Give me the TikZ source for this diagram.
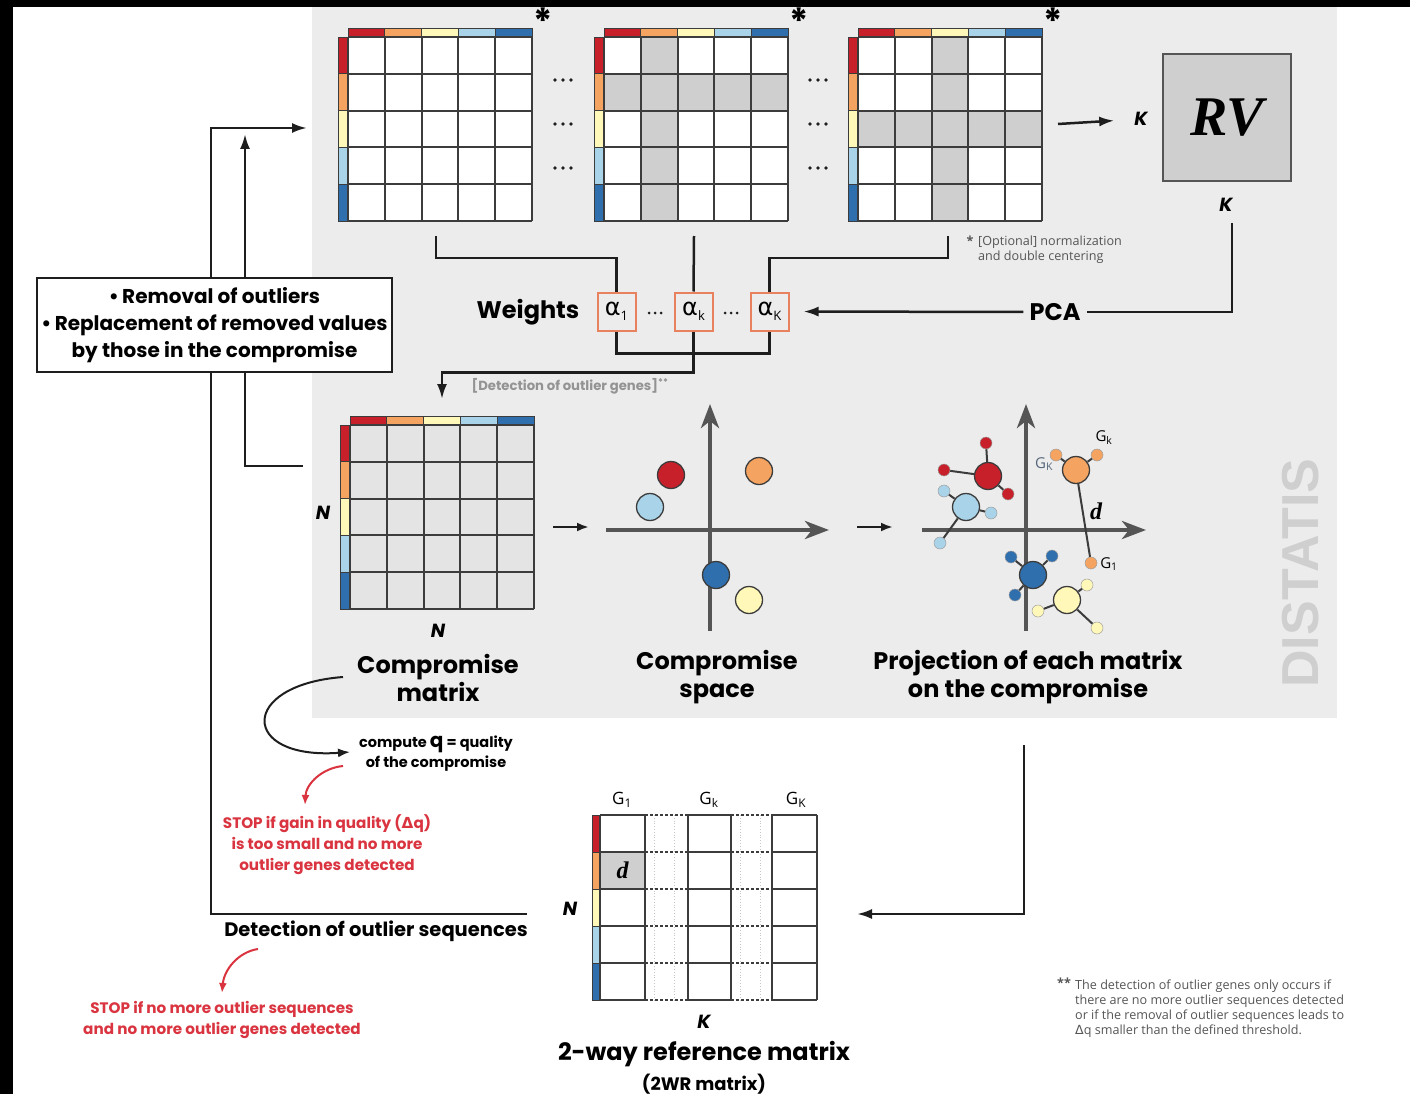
\documentclass[tikz,border=0pt]{standalone}
\usepackage{fontspec}
\setmainfont{Poppins}
\newfontfamily\greekfont{DejaVu Sans}
\newfontfamily\notefont{Open Sans}
\newfontfamily\bandfont{Liberation Sans}
\newfontfamily\rvfont{Liberation Serif}
\usetikzlibrary{arrows.meta,positioning,calc}

\definecolor{gred}{HTML}{C8202A}
\definecolor{gorange}{HTML}{F4A460}
\definecolor{gyellow}{HTML}{FFF8B8}
\definecolor{glblue}{HTML}{A9D3E8}
\definecolor{gblue}{HTML}{2F6FAE}
\definecolor{panel}{HTML}{ECECEC}
\definecolor{cellgray}{HTML}{E4E4E4}
\definecolor{cellshade}{HTML}{CFCFCF}
\definecolor{gridline}{HTML}{3C3C3C}
\definecolor{axisc}{HTML}{555555}
\definecolor{linkc}{HTML}{1E1E1E}
\definecolor{boxorange}{HTML}{E8825E}
\definecolor{stopred}{HTML}{D9343F}
\definecolor{notegray}{HTML}{555555}
\definecolor{bandgray}{HTML}{CFCFCF}
\definecolor{glabblue}{HTML}{55667A}

\newcommand{\alphatxt}[1]{{\greekfont\fontsize{24}{24}\selectfont α}\raisebox{-5pt}{\notefont\fontsize{13}{13}\selectfont #1}}

\tikzset{
  link/.style={line width=2.5pt,draw=linkc},
  tip/.style={-{Latex[length=15pt,width=10pt]}},
  shorttip/.style={line width=2.5pt,draw=linkc,-{Latex[length=12pt,width=9pt]}},
  cellline/.style={draw=gridline,line width=2pt},
  axisline/.style={draw=axisc,line width=4.5pt,-{Stealth[length=24pt,width=18pt,inset=7pt]}},
  atom/.style={circle,draw=gridline,line width=1.3pt,fill=#1,minimum size=27pt,inner sep=0pt},
  sat/.style={circle,draw=gridline!50,line width=0.5pt,fill=#1,minimum size=12pt,inner sep=0pt},
  bond/.style={draw=gridline,line width=2pt},
  title/.style={font=\bfseries\fontsize{24}{28}\selectfont,align=center,inner sep=0pt},
  dimlab/.style={font=\bfseries\itshape\fontsize{19}{19}\selectfont,inner sep=0pt},
  alphabox/.style={draw=boxorange,line width=2pt,fill=panel,minimum size=38pt,inner sep=0pt},
  asterisk/.style={font=\bfseries\fontsize{36}{36}\selectfont,inner sep=0pt},
  note/.style={font=\notefont\fontsize{12.6}{15}\selectfont,text=notegray,inner sep=0pt},
  smalltext/.style={font=\bfseries\fontsize{14.5}{20}\selectfont,align=center,inner sep=0pt},
  stoptext/.style={font=\bfseries\fontsize{15.2}{21}\selectfont,text=stopred,align=center,inner sep=0pt},
  stoparrow/.style={draw=stopred,line width=2pt,-{Latex[length=10pt,width=8pt]}},
  glab/.style={font=\notefont\fontsize{15}{15}\selectfont,inner sep=0pt},
  dlab/.style={font=\rvfont\bfseries\itshape\fontsize{24}{24}\selectfont,inner sep=0pt}
}

\begin{document}
\begin{tikzpicture}[x=1pt,y=-1pt]

% Fond
\useasboundingbox (0,0) rectangle (1410,1094);
\fill[white] (0,0) rectangle (1410,1094);
\fill[black] (0,0) rectangle (1410,7);
\fill[black] (0,0) rectangle (13,1094);

% Panneau DISTATIS
\fill[panel] (312,7) rectangle (1337,718);
\node[rotate=90,font=\bandfont\bfseries\fontsize{52}{52}\selectfont,text=bandgray] (distatis) at (1301,573) {DISTATIS};

% Matrices de distances
\foreach \X/\S in {348/-1,604/1,858/2}
{
  \fill[white] (\X,37) rectangle ++(184,184);
  \ifnum\S>-1
    \fill[cellshade] (\X+\S*36.8,37) rectangle ++(36.8,184);
    \fill[cellshade] (\X,37+\S*36.8) rectangle ++(184,36.8);
  \fi
  \foreach \c [count=\i from 0] in {gred,gorange,gyellow,glblue,gblue}
  {
    \filldraw[fill=\c,draw=gridline,line width=0.8] (\X+\i*36.8,28) rectangle ++(36.8,8);
    \filldraw[fill=\c,draw=gridline,line width=0.8] (\X-10,37+\i*36.8) rectangle ++(10,36.8);
  }
  \foreach \k in {0,...,5}
  {
    \draw[cellline] (\X+\k*36.8,37) -- ++(0,184);
    \draw[cellline] (\X,37+\k*36.8) -- ++(184,0);
  }
  \node[asterisk] (star\X) at (\X+195,21) {*};
}

% Points de suspension
\foreach \x in {563,818}
  \foreach \y in {80,124,168}
    \foreach \d in {-8,0,8}
      \fill[linkc] (\x+\d,\y) circle (1.8);

% RV
\node[draw=axisc,line width=1.5pt,fill=cellshade,minimum width=128pt,minimum height=127pt,
  font=\rvfont\bfseries\itshape\fontsize{56}{56}\selectfont] (rv) at (1227,117.5) {RV};
\node[dimlab] (rvK) at (1141,119) {K};
\node[dimlab] (rvKb) at (1226,205) {K};
\coordinate (m3e) at (1058,124);
\draw[link,tip,shorten >=20pt] (m3e) -- (rvK);

% Poids
\node[title] (weights) at (528,312) {Weights};
\node[alphabox] (a1) at (616.5,311.5) {\alphatxt{1}};
\node[alphabox] (ak) at (693.5,311.5) {\alphatxt{k}};
\node[alphabox] (aK) at (769.5,311.5) {\alphatxt{K}};
\foreach \x in {655,731}
  \foreach \d in {-6,0,6}
    \fill[linkc] (\x+\d,313) circle (1.5);

\coordinate (m1s) at (436,236);
\coordinate (m2s) at (694,236);
\coordinate (m3s) at (948,236);
\draw[link] (m1s) -- ++(0,22) -| (a1.north);
\draw[link] (m2s) -- (ak.north);
\draw[link] (m3s) -- ++(0,22) -| (aK.north);

\draw[link] (a1.south) -- ++(0,22) -| (aK.south);
\coordinate (cmin) at (442,399);
\draw[link,tip] (ak.south) -- ++(0,41) -| (cmin);
\node[font=\bfseries\fontsize{13.2}{13.2}\selectfont,text=gray!85,inner sep=0pt] (genes) at (570,386)
  {[Detection of outlier genes]\textsuperscript{**}};

% PCA
\node[title] (pca) at (1055,312) {PCA};
\draw[link] ([xshift=6pt,yshift=-11pt]rvKb.south) |- ([xshift=6pt]pca.east);
\draw[link,tip,shorten <=6pt,shorten >=14pt] (pca.west) -- (aK.east);

\node[note,anchor=north west,align=left] (optnote) at (978,236) {[Optional] normalization\\and double centering};
\node[note] (optstar) at (970,241) {\textbf{*}};

% Boucle des valeurs aberrantes
\coordinate (seqend) at (527,914);
\coordinate (colA) at (211,128);
\coordinate (m1in) at (307,128);
\draw[link,tip] (seqend) -| (colA) -- (m1in);
\coordinate (cmout) at (303,466);
\coordinate (colB) at (245,134);
\draw[link,tip] (cmout) -| (colB);

\node[draw=linkc,line width=2pt,fill=white,minimum width=355pt,minimum height=94pt,align=center,
  font=\bfseries\fontsize{20}{27}\selectfont] (rmv) at (214.5,325)
  {\textbullet\,Removal of outliers\\\textbullet\,Replacement of removed values\\by those in the compromise};

% Matrice compromis
\fill[cellgray] (350,425) rectangle ++(184,184);
\foreach \c [count=\i from 0] in {gred,gorange,gyellow,glblue,gblue}
{
  \filldraw[fill=\c,draw=gridline,line width=0.8] (350+\i*36.8,416) rectangle ++(36.8,8);
  \filldraw[fill=\c,draw=gridline,line width=0.8] (340,425+\i*36.8) rectangle ++(10,36.8);
}
\foreach \k in {0,...,5}
{
  \draw[cellline] (350+\k*36.8,425) -- ++(0,184);
  \draw[cellline] (350,425+\k*36.8) -- ++(184,0);
}
\node[dimlab] (cmN1) at (323,513) {N};
\node[dimlab] (cmN2) at (438,631) {N};
\node[title] (cmlab) at (438,678) {Compromise\\matrix};

\coordinate (cmE) at (553,527);
\coordinate (spW) at (589,527);
\draw[shorttip] (cmE) -- (spW);
\coordinate (spE) at (857,527);
\coordinate (prW) at (893,527);
\draw[shorttip] (spE) -- (prW);

% Espace compromis
\draw[axisline] (606,530) -- (829,530);
\draw[axisline] (710,631) -- (710,404);
\node[atom=gred] (sred) at (671,475) {};
\node[atom=glblue] (slb) at (650,507) {};
\node[atom=gorange] (sor) at (759,471) {};
\node[atom=gblue] (sbl) at (716,575) {};
\node[atom=gyellow] (sye) at (749,600) {};
\node[title] (splab) at (717,677) {Compromise\\space};

% Projection
\draw[axisline] (922,530) -- (1146,530);
\draw[axisline] (1026,631) -- (1026,404);
\node[atom=gred] (pred) at (988,476) {};
\node[sat=gred] (pred1) at (986,443) {};
\node[sat=gred] (pred2) at (944,470) {};
\node[sat=gred] (pred3) at (1008,494) {};
\node[atom=glblue] (plb) at (966,507) {};
\node[sat=glblue] (plb1) at (944,491) {};
\node[sat=glblue] (plb2) at (991,513) {};
\node[sat=glblue] (plb3) at (940,543) {};
\node[atom=gorange] (por) at (1076,470) {};
\node[sat=gorange] (por1) at (1056,455) {};
\node[sat=gorange] (por2) at (1097,455) {};
\node[sat=gorange] (por3) at (1091,563) {};
\node[atom=gblue] (pbl) at (1033,575) {};
\node[sat=gblue] (pbl1) at (1011,557) {};
\node[sat=gblue] (pbl2) at (1052,556) {};
\node[sat=gblue] (pbl3) at (1015,595) {};
\node[atom=gyellow] (pye) at (1067,600) {};
\node[sat=gyellow] (pye1) at (1038,611) {};
\node[sat=gyellow] (pye2) at (1087,585) {};
\node[sat=gyellow] (pye3) at (1097,628) {};
\foreach \a in {pred,plb,por,pbl,pye}
  \foreach \n in {1,2,3}
    \draw[bond] (\a) -- (\a\n);
\node[glab,text=glabblue] (gK) at (1044,464) {G\textsubscript{K}};
\node[glab] (gk) at (1104,438) {G\textsubscript{k}};
\node[glab] (g1) at (1109,564) {G\textsubscript{1}};
\node[dlab] (dproj) at (1096,511) {d};
\node[title] (prlab) at (1028,677) {Projection of each matrix\\on the compromise};

% Vers la matrice 2WR
\coordinate (prS) at (1024,745);
\coordinate (wrE) at (857,914);
\draw[link,tip] (prS) |- (wrE);

% Qualité du compromis
\node[smalltext] (qual) at (436,754) {compute {\fontsize{20}{20}\selectfont q} = quality\\of the compromise};
\coordinate (cq) at (343,677);
\coordinate (qin) at (350,752);
\draw[line width=2pt,draw=linkc,-{Latex[length=12pt,width=9pt]}] (cq)
  .. controls +(-105,8) and +(-110,8) .. (qin);
\coordinate (q1) at (343,766);
\node[stoptext] (stop1) at (327,845) {STOP if gain in quality ({\greekfont Δ}q)\\is too small and no more\\outlier genes detected};
\coordinate (s1) at (305,805);
\draw[stoparrow] (q1) .. controls (322,768) and (306,784) .. (s1);

\node[font=\bfseries\fontsize{19.5}{19.5}\selectfont,inner sep=0pt] (det) at (376,931) {Detection of outlier sequences};
\coordinate (q2) at (258,949);
\coordinate (s2) at (222,993);
\draw[stoparrow] (q2) .. controls (238,952) and (224,970) .. (s2);
\node[stoptext] (stop2) at (222,1020) {STOP if no more outlier sequences\\and no more outlier genes detected};

% Matrice de référence à 2 voies
\foreach \a/\b in {600/645,688/731,772/817}
  \fill[white] (\a,815) rectangle (\b,1000);
\fill[cellshade] (600,852) rectangle (645,889);
\foreach \c [count=\i from 0] in {gred,gorange,gyellow,glblue,gblue}
  \filldraw[fill=\c,draw=gridline,line width=0.8] (592,815+\i*37) rectangle ++(8,37);
\foreach \x in {654,674,740,760}
  \draw[gray!45,line width=0.8pt,dotted] (\x,815) -- (\x,1000);
\foreach \k in {0,...,5}
{
  \draw[cellline] (600,815+\k*37) -- (645,815+\k*37);
  \draw[cellline] (688,815+\k*37) -- (731,815+\k*37);
  \draw[cellline] (772,815+\k*37) -- (817,815+\k*37);
  \draw[cellline,dash pattern=on 3pt off 2pt] (645,815+\k*37) -- (688,815+\k*37);
  \draw[cellline,dash pattern=on 3pt off 2pt] (731,815+\k*37) -- (772,815+\k*37);
}
\foreach \x in {600,645,688,731,772,817}
  \draw[cellline] (\x,815) -- (\x,1000);
\node[dlab] (dwr) at (622.5,870.5) {d};
\node[glab,font=\notefont\fontsize{17}{17}\selectfont] (wg1) at (622,800) {G\textsubscript{1}};
\node[glab,font=\notefont\fontsize{17}{17}\selectfont] (wgk) at (709,800) {G\textsubscript{k}};
\node[glab,font=\notefont\fontsize{17}{17}\selectfont] (wgK) at (796,800) {G\textsubscript{K}};
\node[dimlab] (wrN) at (570,909) {N};
\node[dimlab] (wrK) at (704,1022) {K};
\node[title] (wrlab) at (704,1054) {2-way reference matrix};
\node[font=\bfseries\fontsize{18}{18}\selectfont,inner sep=0pt] (wrsub) at (704,1084) {(2WR matrix)};

% Note
\node[note] (genestar) at (1064,983) {\textbf{**}};
\node[note,anchor=north west,align=left] (genenote) at (1075,980)
  {The detection of outlier genes only occurs if\\there are no more outlier sequences detected\\or if the removal of outlier sequences leads to\\{\greekfont Δ}q smaller than the defined threshold.};

\end{tikzpicture}
\end{document}
